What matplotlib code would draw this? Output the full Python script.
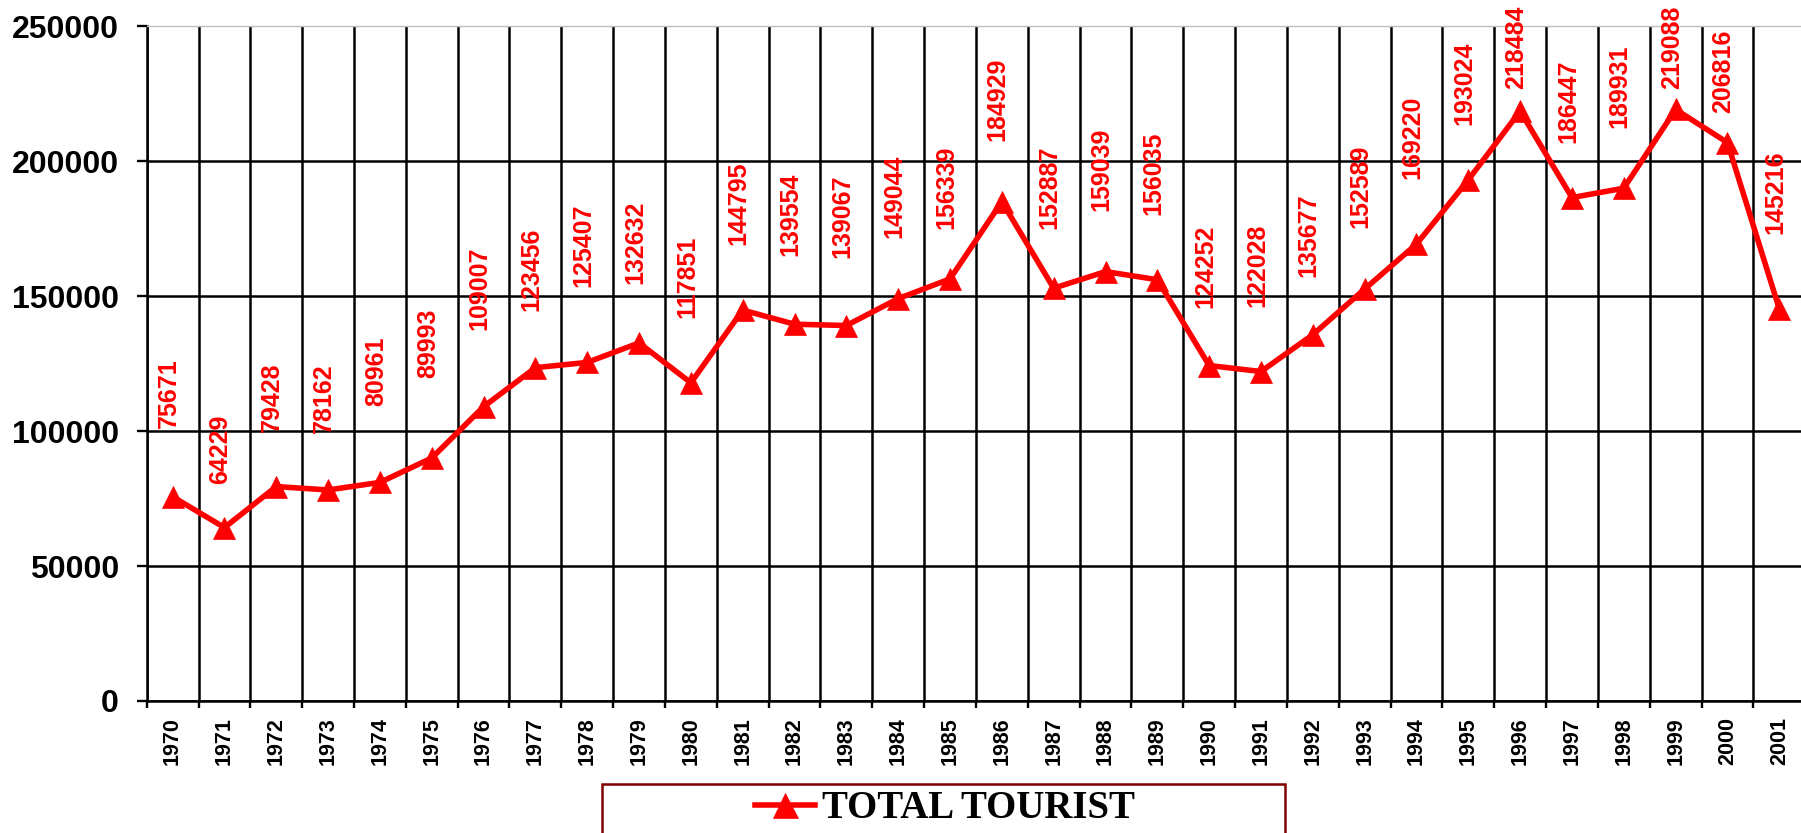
import matplotlib
matplotlib.use("Agg")
import numpy as np
import matplotlib.pyplot as plt
from matplotlib.patches import Rectangle
from matplotlib.lines import Line2D
from matplotlib.ticker import FixedLocator, NullFormatter
from matplotlib.font_manager import FontProperties

# ---- data ----
years = ["1970", "1971", "1972", "1973", "1974", "1975", "1976", "1977",
         "1978", "1979", "1980", "1981", "1982", "1983", "1984", "1985",
         "1986", "1987", "1988", "1989", "1990", "1991", "1992", "1993",
         "1994", "1995", "1996", "1997", "1998", "1999", "2000", "2001"]
tourists = [75671, 64229, 79428, 78162, 80961, 89993, 109007, 123456,
            125407, 132632, 117851, 144795, 139554, 139067, 149044, 156339,
            184929, 152887, 159039, 156035, 124252, 122028, 135677, 152589,
            169220, 193024, 218484, 186447, 189931, 219088, 206816, 145216]
y_ticks = [0, 50000, 100000, 150000, 200000, 250000]
series_name = "TOTAL TOURIST"

# label placement (pixels above each point, as in the reference)
label_gap_px = [69, 44, 55, 57, 76, 80, 77, 57, 75, 59, 65, 65, 68, 68, 61, 50,
                61, 59, 61, 65, 58, 65, 58, 61, 65, 55, 22, 55, 60, 20, 30, 75]

RED = "#FF0000"
plt.rcParams["font.family"] = ["Liberation Sans", "DejaVu Sans"]

fig = plt.figure(figsize=(18.01, 8.33), dpi=100)
ax = fig.add_axes([146.7 / 1801, 1 - 701 / 833, 1658.5 / 1801, 675 / 833])

x = np.arange(len(years))
ax.plot(x, tourists, color=RED, lw=4.0, marker="^", ms=16, mec=RED, mew=0.5,
        zorder=3, clip_on=False)

ax.set_xlim(-0.5, len(years) - 0.5)
ax.set_ylim(y_ticks[0], y_ticks[-1])

# x axis: ticks/grid at category boundaries, labels at centres
ax.xaxis.set_major_locator(FixedLocator(np.arange(-0.5, len(years) + 0.5, 1)))
ax.xaxis.set_major_formatter(NullFormatter())
ax.xaxis.set_minor_locator(FixedLocator(x))
ax.set_xticklabels(years, minor=True, rotation=90, fontsize=15.5, fontweight="bold")
ax.tick_params(axis="x", which="minor", length=0, pad=11.5)
ax.tick_params(axis="x", which="major", length=5, width=1.7, direction="out", color="black")

# y axis
ax.yaxis.set_major_locator(FixedLocator(y_ticks))
ax.set_yticklabels([str(v) for v in y_ticks], fontsize=23, fontweight="bold")
ax.tick_params(axis="y", which="major", length=7, width=1.7, pad=13, direction="out")

ax.grid(axis="x", which="major", color="black", lw=1.8, zorder=1)
ax.grid(axis="y", which="major", color="black", lw=1.8, zorder=1)
ax.set_axisbelow(True)

ax.spines["right"].set_visible(False)
ax.spines["top"].set_color("#C0C0C0")
ax.spines["top"].set_linewidth(1.0)
ax.spines["left"].set_linewidth(1.8)
ax.spines["bottom"].set_linewidth(1.8)

gls = ax.get_ygridlines()
gls[-1].set_visible(False)

# data labels
for xi, v, gap in zip(x, tourists, label_gap_px):
    ax.annotate(f"{v}", (xi, v), xytext=(-4, gap), textcoords="offset pixels",
                rotation=90, ha="center", va="bottom", color=RED,
                fontsize=18, fontweight="bold", annotation_clip=False)

# legend box
fig.add_artist(Rectangle((602 / 1801, -0.1), (1285 - 602) / 1801, 0.1 + (1 - 784 / 833),
                         transform=fig.transFigure, fill=False,
                         edgecolor="#800000", lw=1.8))
handle = Line2D([], [], color=RED, lw=4.0, marker="^", ms=18, mec=RED, mew=0.5)
fig.legend(handles=[handle], labels=[series_name], loc="center",
           bbox_to_anchor=(945 / 1801, 1 - 809 / 833), frameon=False,
           prop=FontProperties(family="Liberation Serif", weight="bold", size=28),
           handlelength=1.55, handletextpad=0.18, borderpad=0, borderaxespad=0)

fig.savefig("out.png", dpi=100)
